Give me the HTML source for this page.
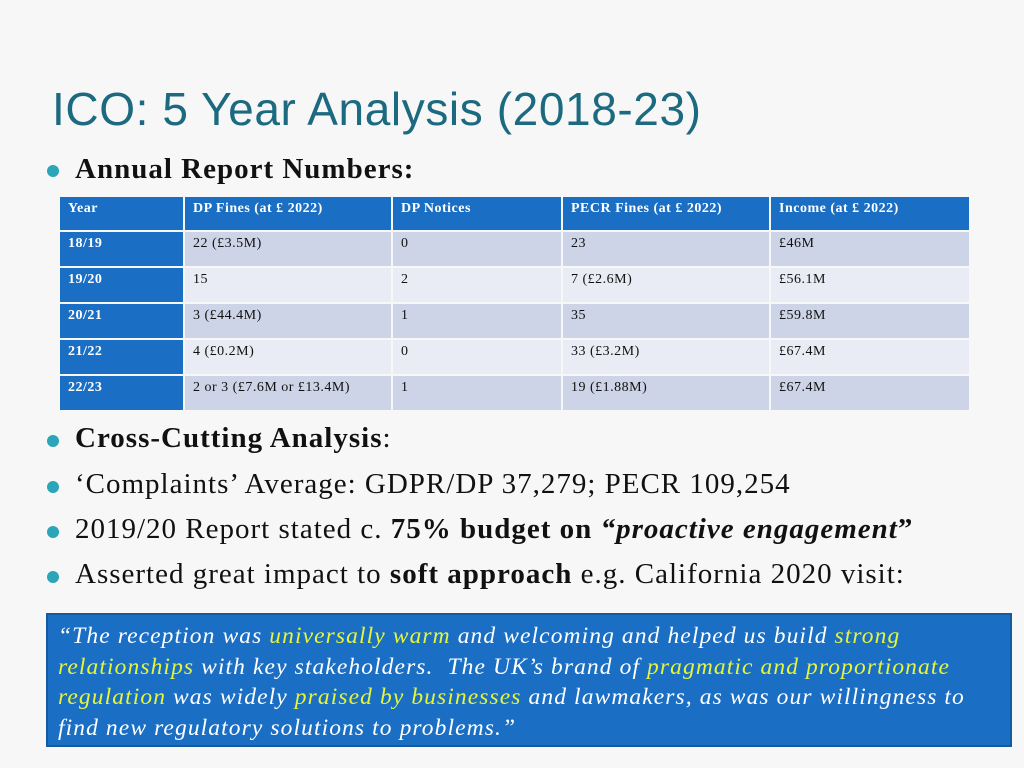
<!DOCTYPE html>
<html><head><meta charset="utf-8"><style>
body{margin:0;width:1024px;height:768px;background:#f7f7f7;position:relative;overflow:hidden;font-family:"Liberation Serif",serif;}
.title{position:absolute;left:52px;top:82px;font-family:"Liberation Sans",sans-serif;font-size:46px;color:#1b6a80;letter-spacing:0.6px;}
.b{position:absolute;left:75px;font-size:29px;color:#111;white-space:nowrap;letter-spacing:1px;}
.dot{position:absolute;left:47px;width:12px;height:12px;border-radius:50%;background:#2aa6b8;}
table{position:absolute;left:58px;top:195px;border-collapse:separate;border-spacing:2px 2px;font-size:14px;letter-spacing:0.5px;}
td{vertical-align:top;padding:4px 8px;height:26px;color:#111;}
tr.h td{background:#1a6fc4;color:#fff;font-weight:bold;height:25px;}
td.y{background:#1a6fc4;color:#fff;font-weight:bold;}
tr.o td{background:#cdd4e7;} tr.e td{background:#e9ecf4;}
tr.o td.y,tr.e td.y{background:#1a6fc4;}
.quote{position:absolute;left:46px;top:613px;width:952px;height:124px;background:#1a6fc4;border:2px solid #145a9e;color:#fff;font-style:italic;font-size:23.5px;line-height:30.5px;padding:6px 0 0 10px;letter-spacing:1.1px;white-space:nowrap;}
.y2{color:#e6f53a;}
</style></head><body>
<div class="title">ICO: 5 Year Analysis (2018-23)</div>
<div class="dot" style="top:165px"></div>
<div class="b" style="top:153px;font-weight:bold">Annual Report Numbers:</div>
<table>
<tr class="h"><td style="width:107px">Year</td><td style="width:190px">DP Fines (at £ 2022)</td><td style="width:152px">DP Notices</td><td style="width:190px">PECR Fines (at £ 2022)</td><td style="width:182px">Income (at £ 2022)</td></tr>
<tr class="o"><td class="y">18/19</td><td>22 (£3.5M)</td><td>0</td><td>23</td><td>£46M</td></tr>
<tr class="e"><td class="y">19/20</td><td>15</td><td>2</td><td>7 (£2.6M)</td><td>£56.1M</td></tr>
<tr class="o"><td class="y">20/21</td><td>3 (£44.4M)</td><td>1</td><td>35</td><td>£59.8M</td></tr>
<tr class="e"><td class="y">21/22</td><td>4 (£0.2M)</td><td>0</td><td>33 (£3.2M)</td><td>£67.4M</td></tr>
<tr class="o"><td class="y">22/23</td><td>2 or 3 (£7.6M or £13.4M)</td><td>1</td><td>19 (£1.88M)</td><td>£67.4M</td></tr>
</table>
<div class="dot" style="top:435px"></div>
<div class="b" style="top:422px"><b>Cross-Cutting Analysis</b>:</div>
<div class="dot" style="top:481px"></div>
<div class="b" style="top:468px">‘Complaints’ Average: GDPR/DP 37,279; PECR 109,254</div>
<div class="dot" style="top:526px"></div>
<div class="b" style="top:513px">2019/20 Report stated c. <b>75% budget on <i>“proactive engagement</i>”</b></div>
<div class="dot" style="top:571px"></div>
<div class="b" style="top:558px">Asserted great impact to <b>soft approach</b> e.g. California 2020 visit:</div>
<div class="quote">“The reception was <span class="y2">universally warm</span> and welcoming and helped us build <span class="y2">strong</span><br><span class="y2">relationships</span> with key stakeholders.&nbsp; The UK’s brand of <span class="y2">pragmatic and proportionate</span><br><span class="y2">regulation</span> was widely <span class="y2">praised by businesses</span> and lawmakers, as was our willingness to<br>find new regulatory solutions to problems.”</div>
</body></html>
